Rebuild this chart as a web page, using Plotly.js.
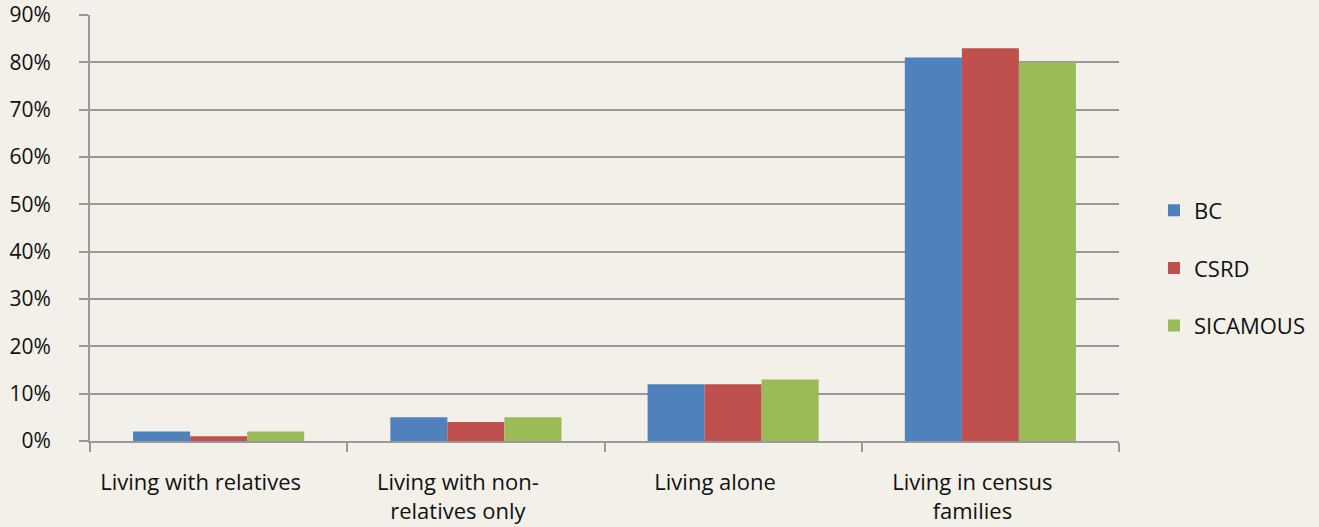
<!DOCTYPE html>
<html>
<head>
<meta charset="utf-8">
<script src="https://cdn.plot.ly/plotly-3.0.1.min.js"></script>
<style>
html,body{margin:0;padding:0;background:#f2f0e9;}
#chart{width:1319px;height:527px;}
</style>
</head>
<body>
<div id="chart"></div>
<script>
var categories = ["Living with relatives", "Living with non-<br>relatives only", "Living alone", "Living in census<br>families"];
var bcValues = [2, 5, 12, 81];
var csrdValues = [1, 4, 12, 83];
var sicamousValues = [2, 5, 13, 80];
var seriesNames = ["BC", "CSRD", "SICAMOUS"];
var seriesColors = ["#4F81BD", "#C0504D", "#9BBB59"];
var yTickVals = [0, 10, 20, 30, 40, 50, 60, 70, 80, 90];
var yTickText = ["0%", "10%", "20%", "30%", "40%", "50%", "60%", "70%", "80%", "90%"];

var allValues = [bcValues, csrdValues, sicamousValues];
var traces = allValues.map(function (vals, i) {
  return {
    type: "bar",
    name: seriesNames[i],
    x: categories,
    y: vals,
    marker: { color: seriesColors[i], line: { width: 0 } },
    legendgroup: "g" + i,
    hoverinfo: "x+y+name"
  };
});

var font = "'Open Sans', 'DejaVu Sans', sans-serif";
var layout = {
  width: 1319,
  height: 527,
  paper_bgcolor: "#f2f0e9",
  plot_bgcolor: "rgba(0,0,0,0)",
  margin: { l: 90, r: 200, t: 15, b: 86, pad: 0, autoexpand: false },
  barmode: "group",
  bargap: 0.335,
  bargroupgap: 0,
  font: { family: font, size: 22, color: "#111" },
  showlegend: true,
  legend: {
    x: 1.034, xanchor: "left",
    y: 0.406, yanchor: "middle",
    bgcolor: "rgba(0,0,0,0)",
    font: { family: font, size: 22, color: "#111" },
    traceorder: "grouped",
    tracegroupgap: 26,
    itemwidth: 30
  },
  xaxis: {
    type: "category",
    showline: true,
    linecolor: "#999",
    linewidth: 2,
    ticks: "outside",
    tickson: "boundaries",
    ticklen: 9,
    tickcolor: "#999",
    tickwidth: 2,
    showgrid: false,
    automargin: false,
    ticklabeloverflow: "allow",
    ticklabelstandoff: 21,
    ticklabelshift: -18,
    tickfont: { family: font, size: 22, color: "#111" },
    fixedrange: true
  },
  yaxis: {
    range: [0, 90],
    tickvals: yTickVals,
    ticktext: yTickText,
    showline: true,
    linecolor: "#999",
    linewidth: 2,
    ticks: "outside",
    ticklen: 9,
    tickcolor: "#999",
    tickwidth: 2,
    showgrid: true,
    gridcolor: "#999",
    gridwidth: 2,
    zeroline: false,
    automargin: false,
    ticklabeloverflow: "allow",
    ticklabelstandoff: 24,
    tickfont: { family: font, size: 21, color: "#111" },
    fixedrange: true
  }
};

Plotly.newPlot("chart", traces, layout, { displayModeBar: false, staticPlot: true });
</script>
</body>
</html>
